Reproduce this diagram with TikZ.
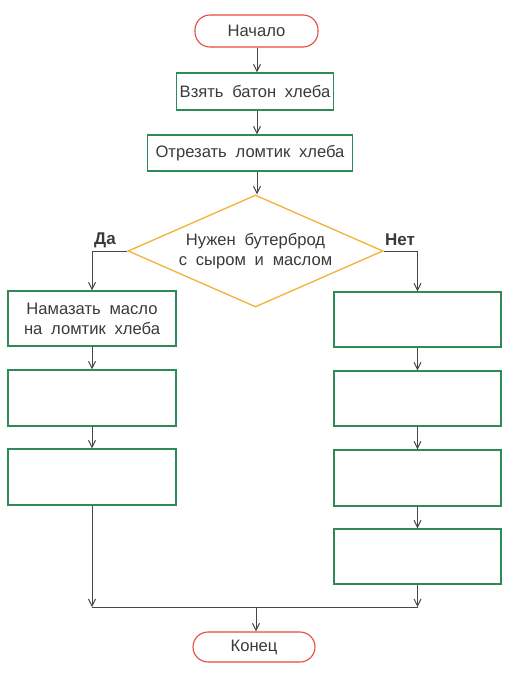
\documentclass[tikz,border=0pt]{standalone}
\usepackage{fontspec}
\setmainfont{Liberation Sans}[WordSpace=1.9]
\usetikzlibrary{shapes.geometric,arrows.meta}
\definecolor{txt}{HTML}{3A3A3A}
\definecolor{redl}{HTML}{E8483F}
\definecolor{yell}{HTML}{F2B233}
\definecolor{grn}{HTML}{2E8A57}
\definecolor{lyel}{HTML}{E8D23A}
\definecolor{lin}{HTML}{474747}
\begin{document}
\begin{tikzpicture}[x=1pt,y=-1pt,
  every node/.style={text=txt,font=\fontsize{16.6}{19}\selectfont},
  term/.style={draw=redl,line width=1.1pt,rounded corners=15pt,inner sep=0pt},
  act/.style={draw=grn,line width=1.2pt,inner sep=0pt,align=center,
    preaction={draw=lyel,line width=0.7pt,transform canvas={yshift=0.8pt}}},
  dec/.style={diamond,draw=yell,line width=1.3pt,inner sep=0pt,align=center,
    minimum width=255pt,minimum height=112pt,aspect=2.28},
  lab/.style={font=\fontsize{17}{19}\selectfont\bfseries},
  arr/.style={draw=lin,line width=1pt,-{Straight Barb[length=7pt,width=7pt]}},
  ln/.style={draw=lin,line width=1pt}]
\useasboundingbox (0,0) rectangle (511,674);
\node[term,minimum width=123pt,minimum height=32pt] (start) at (256.5,31) {Начало};
\node[act,minimum width=157pt,minimum height=37pt] (b1) at (255,91.5) {Взять батон хлеба};
\node[act,minimum width=205pt,minimum height=36pt] (b2) at (250,153) {Отрезать ломтик хлеба};
\node[dec] (d) at (255.5,251) {Нужен бутерброд\\[1pt]с сыром и маслом};
\node[lab] (da) at (105,240) {Да};
\node[lab] (net) at (400,240) {Нет};
\node[act,minimum width=168pt,minimum height=55pt] (L1) at (92,318.5) {Намазать масло\\[1pt]на ломтик хлеба};
\node[act,minimum width=168pt,minimum height=56pt] (L2) at (92,398) {};
\node[act,minimum width=168pt,minimum height=56pt] (L3) at (92,477) {};
\node[act,minimum width=167pt,minimum height=55pt] (R1) at (417.5,319.5) {};
\node[act,minimum width=167pt,minimum height=55pt] (R2) at (417.5,398.5) {};
\node[act,minimum width=167pt,minimum height=56pt] (R3) at (417.5,478) {};
\node[act,minimum width=167pt,minimum height=55pt] (R4) at (417.5,556.5) {};
\node[term,minimum width=122pt,minimum height=30pt] (end) at (254,647) {Конец};
\coordinate (m) at (256,607);
\coordinate (ml) at (92,607);
\coordinate (mr) at (417.5,607);
\draw[arr] (start.south -| 257,0) -- (257,0 |- b1.north);
\draw[arr] (b1.south -| 257,0) -- (257,0 |- b2.north);
\draw[arr] (b2.south -| 257,0) -- (257,0 |- d.north);
\draw[arr] (d.west) -| (L1.north);
\draw[arr] (d.east) -| (R1.north);
\draw[arr] (L1) -- (L2);
\draw[arr] (L2) -- (L3);
\draw[arr] (R1) -- (R2);
\draw[arr] (R2) -- (R3);
\draw[arr] (R3) -- (R4);
\draw[arr] (L3.south) -- (ml);
\draw[arr] (R4.south) -- (mr);
\draw[ln] (ml) -- (mr);
\draw[arr] (m) -- (m |- end.north);
\end{tikzpicture}
\end{document}
